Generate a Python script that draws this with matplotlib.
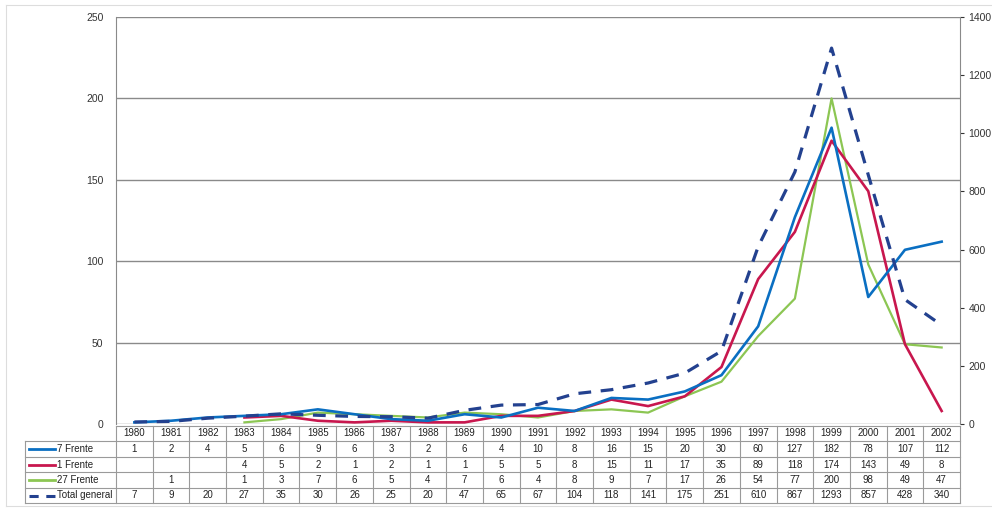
import matplotlib
matplotlib.use("Agg")
import matplotlib.pyplot as plt
import numpy as np
from matplotlib.lines import Line2D

years = [str(y) for y in range(1980, 2003)]
frente7 = [1, 2, 4, 5, 6, 9, 6, 3, 2, 6, 4, 10, 8, 16, 15, 20, 30, 60, 127, 182, 78, 107, 112]
frente1 = [None, None, None, 4, 5, 2, 1, 2, 1, 1, 5, 5, 8, 15, 11, 17, 35, 89, 118, 174, 143, 49, 8]
frente27 = [None, 1, None, 1, 3, 7, 6, 5, 4, 7, 6, 4, 8, 9, 7, 17, 26, 54, 77, 200, 98, 49, 47]
total = [7, 9, 20, 27, 35, 30, 26, 25, 20, 47, 65, 67, 104, 118, 141, 175, 251, 610, 867, 1293, 857, 428, 340]
series_names = ["7 Frente", "1 Frente", "27 Frente", "Total general"]
left_ticks = [0, 50, 100, 150, 200, 250]
right_ticks = [0, 200, 400, 600, 800, 1000, 1200, 1400]

c7, c1, c27, ct = "#0a6fc2", "#c8174e", "#8cc653", "#23418f"
plt.rcParams['font.family'] = ['Liberation Sans', 'DejaVu Sans']

fig = plt.figure(figsize=(9.92, 5.08), dpi=100)
W, H = 992, 508
ax = fig.add_axes([116 / W, 1 - 424 / H, (960 - 116) / W, (424 - 17) / H])
ax2 = ax.twinx()

x = np.arange(len(years))

def arr(v):
    return np.array([np.nan if a is None else a for a in v], dtype=float)

ax.plot(x, arr(frente27), color=c27, lw=1.6, zorder=3)
ax.plot(x, arr(frente1), color=c1, lw=1.9, zorder=4)
ax.plot(x, arr(frente7), color=c7, lw=1.9, zorder=5)
ax2.plot(x, total, color=ct, lw=2.3, ls=(0, (4, 3)), zorder=6)

ax.set_xlim(-0.5, len(years) - 0.5)
ax.set_ylim(0, 250)
ax2.set_ylim(0, 1400)
ax.set_yticks(left_ticks)
ax2.set_yticks(right_ticks)
ax.set_xticks([])
ax.yaxis.grid(True, color="#8a8a8a", lw=1.0)
ax.set_axisbelow(True)
ax.tick_params(axis='y', length=0, pad=9, labelsize=7.5, colors="#333333")
ax2.tick_params(axis='y', length=3, pad=3, labelsize=7.5, colors="#333333", direction='out')
for a in (ax, ax2):
    for s in a.spines.values():
        s.set_visible(False)
ax.spines['left'].set_visible(True)
ax.spines['left'].set_color("#8a8a8a")
ax2.spines['right'].set_visible(True)
ax2.spines['right'].set_color("#8a8a8a")

def fx(px):
    return px / W

def fy(py):
    return 1 - py / H

col_left = 116
col_w = (960 - 116) / len(years)
label_left = 25
row_tops = [426, 441, 457, 472, 488, 503]
lc = "#9a9a9a"
lw = 0.8

fig.add_artist(Line2D([fx(col_left), fx(960)], [fy(row_tops[0]), fy(row_tops[0])], color=lc, lw=lw))
for r in row_tops[1:]:
    fig.add_artist(Line2D([fx(label_left), fx(960)], [fy(r), fy(r)], color=lc, lw=lw))
for i in range(len(years) + 1):
    xp = col_left + i * col_w
    fig.add_artist(Line2D([fx(xp), fx(xp)], [fy(row_tops[0]), fy(row_tops[-1])], color=lc, lw=lw))
fig.add_artist(Line2D([fx(label_left), fx(label_left)], [fy(row_tops[1]), fy(row_tops[-1])], color=lc, lw=lw))

fs = 7
ymid = lambda k: fy((row_tops[k] + row_tops[k + 1]) / 2)
for i, yr in enumerate(years):
    fig.text(fx(col_left + (i + 0.5) * col_w), ymid(0), yr, ha='center', va='center', fontsize=fs, color="#222222")

rows = [frente7, frente1, frente27, total]
colors = [c7, c1, c27, ct]
styles = ['-', '-', '-', (0, (3, 2.5))]
for k, (vals, nm, c, st) in enumerate(zip(rows, series_names, colors, styles)):
    yy = ymid(k + 1)
    fig.add_artist(Line2D([fx(29), fx(55)], [yy, yy], color=c, lw=2.0 if k < 3 else 2.2, ls=st))
    fig.text(fx(57), yy, nm, ha='left', va='center', fontsize=fs, color="#222222")
    for i, v in enumerate(vals):
        if v is None:
            continue
        fig.text(fx(col_left + (i + 0.5) * col_w), yy, str(v), ha='center', va='center', fontsize=fs, color="#222222")

# faint outer chart border (left, top, bottom)
bc = "#dddddd"
fig.add_artist(Line2D([fx(6), fx(6)], [fy(5), fy(506)], color=bc, lw=0.8))
fig.add_artist(Line2D([fx(6), fx(992)], [fy(5), fy(5)], color=bc, lw=0.8))
fig.add_artist(Line2D([fx(6), fx(992)], [fy(506), fy(506)], color=bc, lw=0.8))

fig.savefig("out.png", dpi=100)
